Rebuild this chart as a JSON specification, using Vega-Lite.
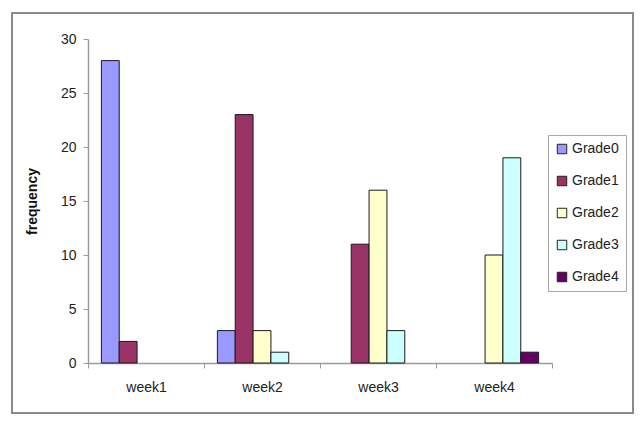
{
  "$schema": "https://vega.github.io/schema/vega-lite/v6.json",
  "width": 621,
  "height": 400,
  "autosize": {"type": "none"},
  "padding": {"left": 12, "top": 13, "right": 10, "bottom": 18},
  "background": "white",
  "config": {
    "view": {"stroke": "#8a8a8a", "strokeWidth": 2},
    "font": "Liberation Sans"
  },
  "data": {
    "values": [
      {"week": "week1", "grade": "Grade0", "frequency": 28},
      {"week": "week1", "grade": "Grade1", "frequency": 2},
      {"week": "week2", "grade": "Grade0", "frequency": 3},
      {"week": "week2", "grade": "Grade1", "frequency": 23},
      {"week": "week2", "grade": "Grade2", "frequency": 3},
      {"week": "week2", "grade": "Grade3", "frequency": 1},
      {"week": "week3", "grade": "Grade1", "frequency": 11},
      {"week": "week3", "grade": "Grade2", "frequency": 16},
      {"week": "week3", "grade": "Grade3", "frequency": 3},
      {"week": "week4", "grade": "Grade2", "frequency": 10},
      {"week": "week4", "grade": "Grade3", "frequency": 19},
      {"week": "week4", "grade": "Grade4", "frequency": 1}
    ]
  },
  "mark": {"type": "bar", "stroke": "#1a1a1a", "strokeWidth": 1},
  "encoding": {
    "x": {
      "field": "week",
      "type": "nominal",
      "sort": ["week1", "week2", "week3", "week4"],
      "scale": {"range": [76, 540], "paddingInner": 0, "paddingOuter": 0},
      "axis": {
        "title": null,
        "offset": -50,
        "labelAngle": 0,
        "labelFontSize": 14,
        "labelColor": "#222222",
        "labelPadding": 12,
        "tickBand": "extent",
        "tickSize": 5,
        "tickColor": "#9a9a9a",
        "domainColor": "#9a9a9a",
        "domainWidth": 1.5
      }
    },
    "xOffset": {
      "field": "grade",
      "type": "nominal",
      "scale": {"domain": ["Grade0", "Grade1", "Grade2", "Grade3", "Grade4"], "paddingInner": 0, "paddingOuter": 0.75}
    },
    "y": {
      "field": "frequency",
      "type": "quantitative",
      "scale": {"domain": [0, 30], "range": [350, 26], "nice": false},
      "axis": {
        "title": "frequency",
        "titleFontSize": 14,
        "titleFontWeight": "bold",
        "titleColor": "#111111",
        "titlePadding": 21,
        "offset": -76,
        "values": [0, 5, 10, 15, 20, 25, 30],
        "grid": false,
        "labelFontSize": 14,
        "labelColor": "#222222",
        "labelPadding": 7,
        "tickSize": 5,
        "tickColor": "#9a9a9a",
        "domainColor": "#9a9a9a",
        "domainWidth": 1.5
      }
    },
    "color": {
      "field": "grade",
      "type": "nominal",
      "scale": {
        "domain": ["Grade0", "Grade1", "Grade2", "Grade3", "Grade4"],
        "range": ["#9999FF", "#993366", "#FFFFCC", "#CCFFFF", "#660066"]
      },
      "legend": {
        "title": null,
        "orient": "none",
        "legendX": 536,
        "legendY": 122,
        "symbolType": "square",
        "symbolSize": 90,
        "symbolStrokeColor": "#222222",
        "symbolStrokeWidth": 1,
        "labelFontSize": 14,
        "labelColor": "#222222",
        "labelOffset": 3,
        "rowPadding": 18,
        "padding": 7,
        "strokeColor": "#a8a8a8",
        "fillColor": "white"
      }
    }
  }
}
